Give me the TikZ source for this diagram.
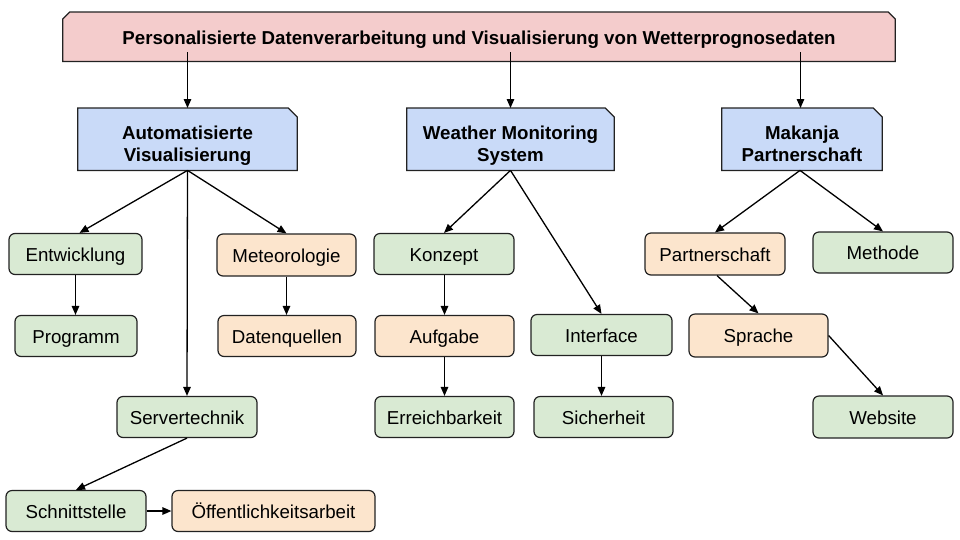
\documentclass[tikz,border=0pt]{standalone}
\usepackage{fontspec}
\setmainfont{Liberation Sans}
\usetikzlibrary{arrows.meta,backgrounds}
\definecolor{pinkf}{HTML}{F4CCCC}
\definecolor{bluef}{HTML}{C9DAF8}
\definecolor{greenf}{HTML}{D9EAD3}
\definecolor{orangef}{HTML}{FCE5CD}
\definecolor{edgec}{HTML}{222222}
\tikzset{
  leaf/.style={draw=edgec, line width=1.2pt, rounded corners=6pt, minimum height=41pt,
    inner sep=0pt, text height=14pt, text depth=0pt, font=\fontsize{18.7}{22}\selectfont},
  gbox/.style={leaf, fill=greenf},
  obox/.style={leaf, fill=orangef},
  hshape/.style={inner sep=0pt},
  htext/.style={inner sep=0pt, align=center, font=\bfseries\fontsize{18.7}{22}\selectfont},
  chamf/.style={draw=edgec, line width=1.2pt},
  conn/.style={draw=black, line width=1.3pt, -{Triangle[length=9pt,width=7.5pt]}},
}
\begin{document}
\begin{tikzpicture}[x=1pt,y=-1pt]
\useasboundingbox (0,0) rectangle (960,539);
% header shapes
\node[hshape, minimum width=832pt, minimum height=49pt] (top) at (479,36.7) {};
\node[hshape, minimum width=219pt, minimum height=62pt] (auto) at (187.5,139.2) {};
\node[hshape, minimum width=207pt, minimum height=62pt] (wms) at (510.5,139.2) {};
\node[hshape, minimum width=160pt, minimum height=62pt] (mak) at (802,139.2) {};
\draw[chamf, fill=pinkf] (top.south west) -- ([yshift=-7pt]top.north west) -- ([xshift=7pt]top.north west)
  -- ([xshift=-7pt]top.north east) -- ([yshift=-7pt]top.north east) -- (top.south east) -- cycle;
\foreach \n in {auto,wms,mak}{
  \draw[chamf, fill=bluef] (\n.south west) -- (\n.north west) -- ([xshift=-9pt]\n.north east)
    -- ([yshift=-9pt]\n.north east) -- (\n.south east) -- cycle;
}
% header texts
\node[htext] (topt) at ([yshift=-3.5pt]top.center) {Personalisierte Datenverarbeitung und Visualisierung von Wetterprognosedaten};
\node[htext] (autot) at ([yshift=-6.3pt]auto.center) {Automatisierte\\Visualisierung};
\node[htext] (wmst) at ([yshift=-6.3pt]wms.center) {Weather Monitoring\\System};
\node[htext] (makt) at ([yshift=-6.3pt]mak.center) {Makanja\\Partnerschaft\vphantom{g}};
% leaves
\node[gbox, minimum width=133pt] (entw) at (75.5,254) {Entwicklung};
\node[gbox, minimum width=122pt] (prog) at (76,336) {Programm};
\node[obox, minimum width=139pt, minimum height=42pt] (met) at (286.5,255) {Meteorologie};
\node[obox, minimum width=138pt] (datq) at (287,336) {Datenquellen};
\node[gbox, minimum width=140pt] (serv) at (187,417) {Servertechnik};
\node[gbox, minimum width=140pt] (schn) at (76,511) {Schnittstelle};
\node[obox, minimum width=203pt] (oeff) at (273.5,511) {Öffentlichkeitsarbeit};
\node[gbox, minimum width=140pt] (konz) at (444,254) {Konzept};
\node[obox, minimum width=139pt] (aufg) at (444.5,336) {Aufgabe};
\node[gbox, minimum width=139pt] (erre) at (444.5,417) {Erreichbarkeit};
\node[gbox, minimum width=141pt] (intf) at (601.5,335) {Interface};
\node[gbox, minimum width=139pt] (sich) at (603.5,417) {Sicherheit};
\node[obox, minimum width=140pt, minimum height=42pt] (part) at (715,254) {Partnerschaft};
\node[gbox, minimum width=140pt] (meth) at (883,252.5) {Methode};
\node[obox, minimum width=139pt, minimum height=43pt] (spra) at (758.5,335.5) {Sprache};
\node[gbox, minimum width=140pt, minimum height=42pt] (webs) at (883,417) {Website};
% connectors
\draw[conn] ([yshift=9pt]top.south -| auto.north) -- (auto.north);
\draw[conn] ([yshift=9pt]top.south -| wms.north) -- (wms.north);
\draw[conn] ([xshift=-1.5pt,yshift=9pt]top.south -| mak.north) -- ([xshift=-1.5pt]mak.north);
\draw[conn] (auto.south) -- ([xshift=4pt]entw.north);
\draw[conn] (auto.south) -- (met.north);
\draw[conn] (auto.south) -- (serv.north);
\draw[conn] (entw.south) -- (entw.south |- prog.north);
\draw[conn] (met.south) -- (met.south |- datq.north);
\draw[conn] (serv.south) -- (schn.north);
\draw[conn] (schn.east) -- (oeff.west);
\draw[conn] (wms.south) -- (konz.north);
\draw[conn] (wms.south) -- (intf.north);
\draw[conn] (konz.south -| aufg.north) -- (aufg.north);
\draw[conn] (aufg.south) -- (aufg.south |- erre.north);
\draw[conn] (intf.south) -- (intf.south |- sich.north);
\draw[conn] ([xshift=-2pt]mak.south) -- (part.north);
\draw[conn] ([xshift=-2pt]mak.south) -- (meth.north);
\draw[conn] ([xshift=2pt]part.south) -- (spra.north);
\draw[conn] (spra.east) -- (webs.north);
\end{tikzpicture}
\end{document}
